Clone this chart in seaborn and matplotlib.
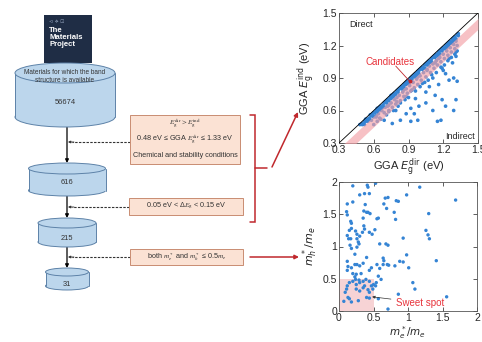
import matplotlib
matplotlib.use("Agg")
import matplotlib.pyplot as plt
import seaborn as sns
from matplotlib.patches import Rectangle, Ellipse

# ---- flowchart data ----
stage_counts = ["56674", "616", "215", "31"]
source_label = "Materials for which the band\nstructure is available"
filter_lines = [
    [r"$E_\mathrm{g}^\mathrm{dir} > E_\mathrm{g}^\mathrm{ind}$",
     r"0.48 eV ≤ GGA $E_\mathrm{g}^\mathrm{dir}$ ≤ 1.33 eV",
     "Chemical and stability conditions"],
    [r"0.05 eV < Δ$E_\mathrm{g}$ < 0.15 eV"],
    [r"both $m_e^*$ and $m_h^*$ ≤ 0.5$m_e$"],
]

# ---- top scatter: direct vs indirect gap (eV) ----
gap_dir = [
    # close to the diagonal
    0.48, 0.50, 0.52, 0.53, 0.54, 0.56, 0.57, 0.58, 0.59, 0.60,
    0.62, 0.63, 0.64, 0.65, 0.66, 0.68, 0.69, 0.70, 0.71, 0.72,
    0.74, 0.75, 0.76, 0.77, 0.78, 0.80, 0.81, 0.82, 0.83, 0.84,
    0.86, 0.87, 0.88, 0.89, 0.90, 0.92, 0.93, 0.94, 0.95, 0.96,
    0.98, 0.99, 1.00, 1.01, 1.02, 1.04, 1.05, 1.06, 1.07, 1.08,
    1.10, 1.11, 1.12, 1.13, 1.14, 1.16, 1.17, 1.18, 1.19, 1.20,
    1.22, 1.23, 1.24, 1.25, 1.26, 1.28, 1.29, 1.30, 1.32, 1.33,
    0.50, 0.53, 0.56, 0.59, 0.61, 0.63, 0.66, 0.68, 0.71, 0.73,
    0.75, 0.77, 0.79, 0.81, 0.84, 0.86, 0.88, 0.90, 0.93, 0.95,
    0.97, 0.99, 1.02, 1.04, 1.06, 1.08, 1.10, 1.13, 1.15, 1.17,
    1.19, 1.21, 1.23, 1.25, 1.27, 1.29, 1.31, 1.33, 1.28, 1.24,
    # inside the candidate band
    0.52, 0.55, 0.58, 0.60, 0.62, 0.64, 0.65, 0.67, 0.69, 0.70,
    0.72, 0.73, 0.75, 0.76, 0.78, 0.79, 0.80, 0.82, 0.83, 0.85,
    0.86, 0.88, 0.89, 0.91, 0.92, 0.94, 0.95, 0.97, 0.98, 1.00,
    1.01, 1.03, 1.05, 1.06, 1.08, 1.09, 1.11, 1.12, 1.14, 1.15,
    1.17, 1.18, 1.20, 1.21, 1.23, 1.24, 1.26, 1.27, 1.29, 1.30,
    1.31, 1.32,
    0.60, 0.66, 0.71, 0.77, 0.81, 0.87, 0.90, 0.96, 1.00, 1.04,
    1.07, 1.10, 1.14, 1.18, 1.21, 1.24, 1.27, 1.30, 1.32, 1.20,
    # scattered below
    0.69, 0.76, 0.83, 0.92, 0.98, 1.15, 1.18, 1.29, 1.22, 1.31,
    1.19, 1.13, 1.05, 0.99, 0.92, 0.88, 0.79, 0.73, 0.83, 0.96,
    1.08, 1.16, 1.25, 1.29, 1.32, 1.22, 1.28, 1.31, 1.31, 1.25,
    1.19, 1.11, 1.02, 0.93, 0.88, 0.80, 0.73, 0.66, 0.62, 0.63,
    1.05, 1.11, 0.95, 0.86, 0.98, 1.06, 1.13, 1.16,
]
gap_ind = [
    0.47, 0.48, 0.50, 0.52, 0.52, 0.53, 0.56, 0.55, 0.57, 0.58,
    0.60, 0.62, 0.61, 0.63, 0.64, 0.65, 0.67, 0.68, 0.69, 0.70,
    0.72, 0.74, 0.73, 0.75, 0.76, 0.78, 0.79, 0.80, 0.81, 0.82,
    0.84, 0.85, 0.86, 0.87, 0.88, 0.90, 0.91, 0.92, 0.93, 0.94,
    0.96, 0.97, 0.98, 0.99, 1.00, 1.02, 1.03, 1.04, 1.05, 1.06,
    1.08, 1.09, 1.10, 1.11, 1.12, 1.14, 1.15, 1.16, 1.17, 1.18,
    1.20, 1.21, 1.22, 1.23, 1.24, 1.26, 1.27, 1.28, 1.30, 1.31,
    0.47, 0.50, 0.52, 0.56, 0.58, 0.59, 0.62, 0.63, 0.67, 0.69,
    0.71, 0.73, 0.75, 0.77, 0.80, 0.82, 0.84, 0.85, 0.89, 0.91,
    0.93, 0.94, 0.98, 0.99, 1.02, 1.04, 1.05, 1.09, 1.11, 1.12,
    1.15, 1.17, 1.18, 1.21, 1.22, 1.25, 1.26, 1.29, 1.23, 1.19,
    0.47, 0.50, 0.51, 0.54, 0.55, 0.57, 0.53, 0.60, 0.58, 0.63,
    0.64, 0.60, 0.67, 0.63, 0.70, 0.66, 0.72, 0.74, 0.69, 0.77,
    0.73, 0.80, 0.76, 0.83, 0.78, 0.86, 0.81, 0.89, 0.84, 0.92,
    0.88, 0.95, 0.91, 0.98, 1.01, 0.95, 1.03, 0.99, 1.06, 1.02,
    1.09, 1.05, 1.12, 1.08, 1.15, 1.11, 1.18, 1.14, 1.21, 1.17,
    1.24, 1.20,
    0.47, 0.52, 0.56, 0.60, 0.64, 0.70, 0.72, 0.78, 0.82, 0.86,
    0.88, 0.93, 0.95, 1.00, 1.02, 1.06, 1.09, 1.12, 1.15, 0.97,
    0.51, 0.48, 0.51, 0.50, 0.51, 0.50, 0.51, 0.60, 0.64, 0.70,
    0.70, 0.74, 0.77, 0.64, 0.62, 0.57, 0.60, 0.59, 0.67, 0.71,
    0.82, 0.84, 0.88, 0.90, 0.87, 0.94, 1.04, 1.10, 1.14, 1.08,
    0.99, 0.90, 0.85, 0.79, 0.73, 0.68, 0.65, 0.60, 0.54, 0.50,
    0.67, 0.60, 0.57, 0.79, 0.91, 0.97, 1.04, 1.08,
]
band_low, band_high = 0.05, 0.15
gap_ticks = [0.3, 0.6, 0.9, 1.2, 1.5]

# ---- bottom scatter: effective masses ----
mass_e = [
    0.20, 0.41, 0.42, 0.53, 0.30, 0.37, 0.44, 0.12, 0.20, 0.38,
    0.67, 0.71, 0.83, 0.86, 0.98, 1.17, 1.69, 0.65, 0.69, 0.80,
    0.82, 0.11, 0.12, 0.17, 0.18, 0.35, 0.40, 0.42, 0.45, 0.57,
    0.55, 0.36, 1.30, 1.26, 1.29, 1.31, 0.93, 0.15, 0.18, 0.12,
    0.14, 0.17, 0.24, 0.26, 0.30, 0.34, 0.37, 0.36, 0.44, 0.48,
    0.52, 0.26, 0.29, 0.28, 0.26, 0.16, 0.18, 0.23, 0.59, 0.68,
    0.71, 0.98, 0.88, 0.93, 1.01, 1.41, 0.12, 0.13, 0.18, 0.12,
    0.23, 0.26, 0.30, 0.35, 0.40, 0.47, 0.55, 0.64, 0.65, 0.64,
    0.70, 0.72, 0.81, 0.59, 0.44, 0.20, 0.25, 0.32, 0.23, 0.39,
    0.24, 0.20, 0.15, 0.12, 0.11, 0.09, 0.13, 0.15, 0.07, 0.18,
    0.28, 0.25, 0.30, 0.35, 0.37, 0.42, 0.44, 0.47, 0.50, 0.54,
    0.53, 0.57, 0.61, 0.44, 0.30, 0.25, 0.44, 0.57, 0.71, 1.07,
    1.10, 0.86, 1.56, 0.29, 0.35, 0.49, 0.40,
]
mass_h = [
    1.94, 1.95, 1.92, 1.98, 1.80, 1.82, 1.82, 1.66, 1.69, 1.65,
    1.75, 1.76, 1.71, 1.70, 1.80, 1.92, 1.72, 1.66, 1.59, 1.53,
    1.42, 1.54, 1.49, 1.39, 1.36, 1.44, 1.53, 1.53, 1.51, 1.44,
    1.43, 1.55, 1.51, 1.25, 1.18, 1.12, 1.13, 1.25, 1.28, 1.17,
    1.12, 1.12, 1.24, 1.19, 1.16, 1.22, 1.27, 1.32, 1.22, 1.19,
    1.26, 1.12, 1.04, 1.07, 0.99, 1.02, 0.97, 0.88, 1.04, 1.04,
    1.02, 0.87, 0.77, 0.76, 0.67, 0.78, 0.77, 0.69, 0.67, 0.63,
    0.72, 0.72, 0.70, 0.74, 0.83, 0.67, 0.72, 0.82, 0.78, 0.72,
    0.72, 0.71, 0.70, 0.66, 0.63, 0.58, 0.57, 0.58, 0.53, 0.49,
    0.49, 0.46, 0.44, 0.39, 0.34, 0.29, 0.21, 0.19, 0.15, 0.14,
    0.16, 0.34, 0.31, 0.36, 0.39, 0.33, 0.29, 0.39, 0.41, 0.44,
    0.39, 0.54, 0.49, 0.46, 0.44, 0.41, 0.20, 0.19, 0.03, 0.44,
    0.34, 0.26, 0.22, 0.48, 0.46, 0.34, 0.21,
]
sweet_limit = 0.5
mass_ticks = [0, 0.5, 1, 1.5, 2]

BLUE = "#3584d4"
PINK = "#f3a0a6"
RED_TXT = "#e8343c"
RED = "#c0282d"
CYL_FILL = "#bcd6ec"
CYL_EDGE = "#5d82a8"
BOX_FILL = "#fbe2d4"
BOX_EDGE = "#c98c72"

sns.set_theme(style="ticks")
plt.rcParams["font.family"] = ["Liberation Sans", "DejaVu Sans"]

fig = plt.figure(figsize=(4.82, 3.42), dpi=100)

# canvas in pixel units for the flowchart
canvas = fig.add_axes([0, 0, 1, 1])
canvas.set_xlim(0, 482)
canvas.set_ylim(342, 0)
canvas.axis("off")


def cylinder(ax, cx, w, top, bottom, eh):
    ax.add_patch(Ellipse((cx, bottom - eh / 2), w, eh, fc=CYL_FILL, ec=CYL_EDGE, lw=0.7, zorder=2))
    ax.add_patch(Rectangle((cx - w / 2, top + eh / 2), w, bottom - top - eh,
                           fc=CYL_FILL, ec="none", zorder=2.1))
    for sx in (cx - w / 2, cx + w / 2):
        ax.plot([sx, sx], [top + eh / 2, bottom - eh / 2], color=CYL_EDGE, lw=0.7, zorder=2.2)
    ax.add_patch(Ellipse((cx, top + eh / 2), w, eh, fc=CYL_FILL, ec=CYL_EDGE, lw=0.7, zorder=2.3))


# Materials Project logo
canvas.add_patch(Rectangle((44, 15), 48, 48, fc="#1f2d45", ec="none"))
canvas.text(49, 22, "⊲ ✧ ⊡", color="#8797b0", fontsize=3.5, va="center", family=["DejaVu Sans"])
canvas.text(49, 27, "The\nMaterials\nProject", color="white", fontsize=5.6, fontweight="bold",
            va="top", ha="left", linespacing=1.05)

cyl_geom = [(65, 100, 63, 127, 20), (67, 77, 163, 196, 11), (67, 58, 218, 247, 10), (67, 43, 268, 290, 8)]
count_y = [103, 182, 238, 284]
for (cx, w, top, bottom, eh), label, ty in zip(cyl_geom, stage_counts, count_y):
    cylinder(canvas, cx, w, top, bottom, eh)
    canvas.text(cx, ty, label, fontsize=5.4, ha="center", va="center", color="#333333", zorder=5)
canvas.text(65, 77, source_label, fontsize=4.7, ha="center", va="center", color="#333333",
            linespacing=1.2, zorder=5)

# vertical arrows between stages
for (y0, y1) in [(127, 163), (196, 218), (247, 268)]:
    canvas.annotate("", xy=(67, y1), xytext=(67, y0),
                    arrowprops=dict(arrowstyle="-|>", color="black", lw=0.9, mutation_scale=5,
                                    shrinkA=0, shrinkB=0), zorder=1)

# filter boxes
box_geom = [(130, 115, 110, 49), (129, 198, 114, 17), (130, 249, 113, 16)]
dash_y = [142, 207, 257]
for (bx, by, bw, bh), lines, dy in zip(box_geom, filter_lines, dash_y):
    canvas.add_patch(Rectangle((bx, by), bw, bh, fc=BOX_FILL, ec=BOX_EDGE, lw=0.7, zorder=3))
    n = len(lines)
    for i, line in enumerate(lines):
        ty = by + bh * (i + 0.5) / n
        canvas.text(bx + bw / 2, ty, line, fontsize=5.2, ha="center", va="center",
                    color="#333333", zorder=4, math_fontfamily="stix")
    canvas.plot([bx, 72], [dy, dy], color="#333333", lw=0.8, ls=(0, (2.2, 1.2)), zorder=1)
    canvas.annotate("", xy=(68, dy), xytext=(74, dy),
                    arrowprops=dict(arrowstyle="-|>", color="#333333", lw=0.6, mutation_scale=3.5,
                                    shrinkA=0, shrinkB=0))

# red bracket and arrows
canvas.plot([250, 255, 255, 250], [115, 115, 222, 222], color=RED, lw=1.1, solid_joinstyle="miter")
canvas.plot([255, 267], [168, 168], color=RED, lw=1.1)
canvas.annotate("", xy=(298, 112), xytext=(272, 167),
                arrowprops=dict(arrowstyle="-|>", color=RED, lw=1.1, mutation_scale=6,
                                shrinkA=0, shrinkB=0))
canvas.annotate("", xy=(299, 257), xytext=(250, 257),
                arrowprops=dict(arrowstyle="-|>", color=RED, lw=1.1, mutation_scale=6,
                                shrinkA=0, shrinkB=0))


def style_axes(ax, ticks, labels):
    ax.set_xticks(ticks)
    ax.set_yticks(ticks)
    ax.set_xticklabels(labels)
    ax.set_yticklabels(labels)
    ax.tick_params(direction="in", top=True, right=True, length=3, width=0.6,
                   labelsize=7.5, pad=1.5, color="#444444")
    for sp in ax.spines.values():
        sp.set_linewidth(0.6)
        sp.set_color("#555555")
        sp.set_visible(True)


# top scatter
ax1 = fig.add_axes([339 / 482, 1 - 143 / 342, 139 / 482, 130 / 342])
sns.scatterplot(x=gap_dir, y=gap_ind, ax=ax1, s=7, color=BLUE, edgecolor="none", linewidth=0, zorder=2)
lo, hi = gap_ticks[0], gap_ticks[-1]
ax1.fill_between([lo, hi], [lo - band_high, hi - band_high], [lo - band_low, hi - band_low],
                 color=PINK, alpha=0.65, lw=0, zorder=3)
ax1.plot([lo, hi], [lo, hi], color="black", lw=0.6, zorder=4)
ax1.set_xlim(lo, hi)
ax1.set_ylim(lo, hi)
style_axes(ax1, gap_ticks, [f"{t:.1f}" for t in gap_ticks])
ax1.set_xlabel(r"GGA $E_\mathrm{g}^\mathrm{dir}$ (eV)", fontsize=8, labelpad=1)
ax1.set_ylabel(r"GGA $E_\mathrm{g}^\mathrm{ind}$ (eV)", fontsize=8, labelpad=3)
ax1.text(0.39, 1.39, "Direct", fontsize=6.5, ha="left", va="center")
ax1.text(1.47, 0.36, "Indirect", fontsize=6.5, ha="right", va="center")
ax1.text(0.74, 1.05, "Candidates", fontsize=7, color=RED_TXT, ha="center", va="center", zorder=6)
ax1.annotate("", xy=(0.91, 0.87), xytext=(0.79, 1.01),
             arrowprops=dict(arrowstyle="-", color=RED, lw=0.6, shrinkA=0, shrinkB=0), zorder=6)
ax1.plot([0.91], [0.87], "o", color=RED, ms=1.8, zorder=6)

# bottom scatter
ax2 = fig.add_axes([339 / 482, 1 - 311 / 342, 138 / 482, 129 / 342])
ax2.add_patch(Rectangle((0, 0), sweet_limit, sweet_limit, fc="#f7d3d5", ec="none", zorder=1))
sns.scatterplot(x=mass_e, y=mass_h, ax=ax2, s=6, color=BLUE, edgecolor="none", linewidth=0, zorder=2)
ax2.set_xlim(mass_ticks[0], mass_ticks[-1])
ax2.set_ylim(mass_ticks[0], mass_ticks[-1])
style_axes(ax2, mass_ticks, [f"{t:g}" for t in mass_ticks])
ax2.set_xlabel(r"$m_e^*/m_e$", fontsize=7.5, labelpad=0.5)
ax2.set_ylabel(r"$m_h^*/m_e$", fontsize=8, labelpad=2)
ax2.annotate("Sweet spot", xy=(0.48, 0.22), xytext=(0.82, 0.13), fontsize=7, color=RED_TXT,
             ha="left", va="center",
             arrowprops=dict(arrowstyle="-|>", color="#333333", lw=0.5, mutation_scale=4,
                             shrinkA=1, shrinkB=0))

fig.savefig("out.png", dpi=100)
